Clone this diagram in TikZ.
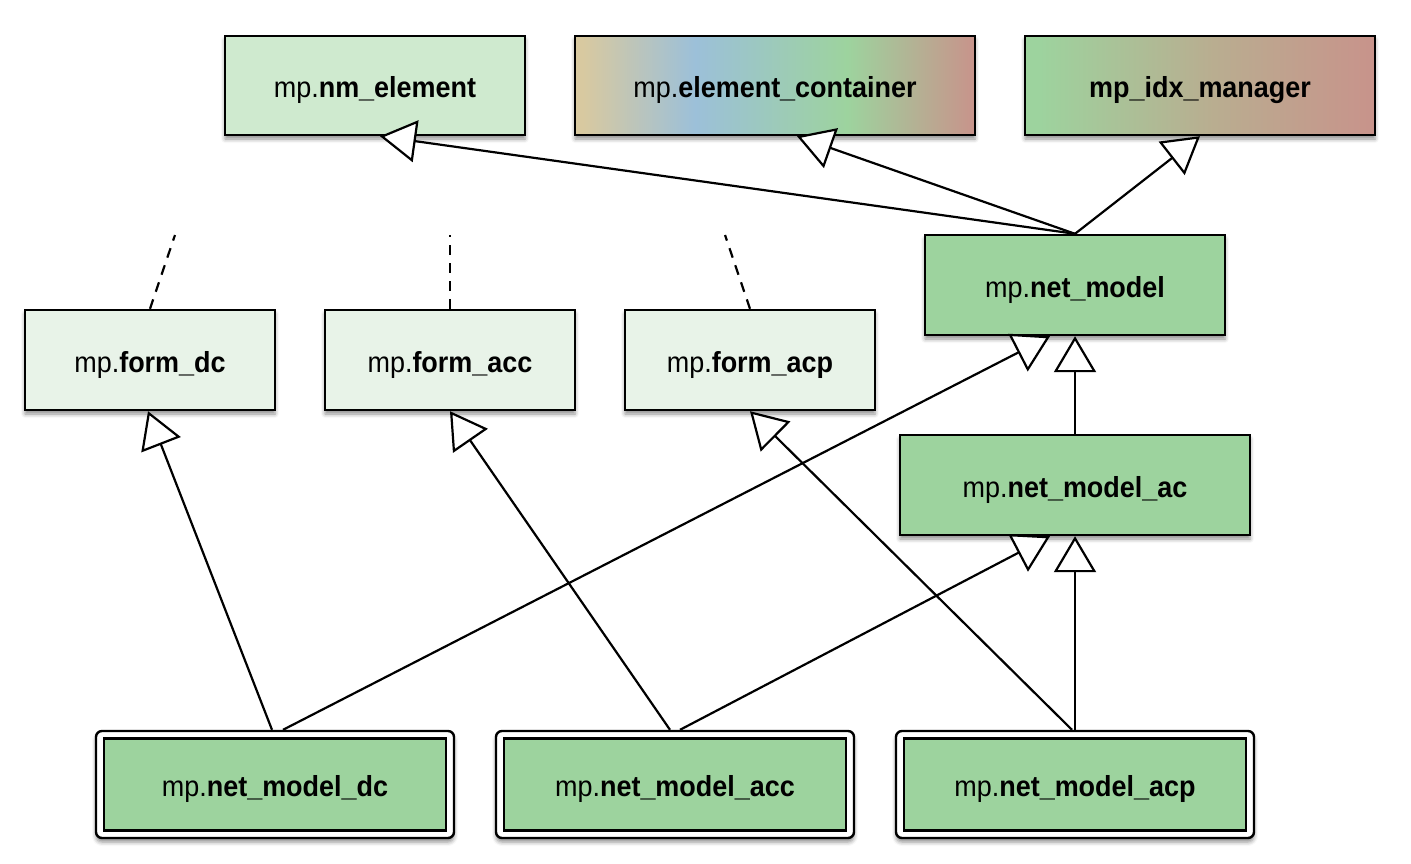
\documentclass[tikz,border=0pt]{standalone}
\usepackage{fontspec}
\setmainfont[FakeStretch=0.93]{Liberation Sans}
\usetikzlibrary{arrows.meta,shadows.blur,calc}
\definecolor{gmid}{HTML}{9DD39E}
\definecolor{glight}{HTML}{CFEACF}
\definecolor{gpale}{HTML}{E8F3E8}
\definecolor{tanc}{HTML}{D8C9A0}
\definecolor{bluec}{HTML}{9CC0D9}
\definecolor{pinkc}{HTML}{C8938B}
\definecolor{tanmid}{HTML}{B9AD90}
\pgfdeclarehorizontalshading{ecshade}{100bp}{color(0bp)=(tanc); color(26bp)=(tanc); color(40bp)=(bluec); color(59bp)=(gmid); color(75bp)=(pinkc); color(100bp)=(pinkc)}
\pgfdeclarehorizontalshading{idxshade}{100bp}{color(0bp)=(gmid); color(27bp)=(gmid); color(52bp)=(tanmid); color(75bp)=(pinkc); color(100bp)=(pinkc)}
\tikzset{
  lbl/.style={font=\fontsize{29}{32}\selectfont, text height=28pt, text depth=4pt},
  cls/.style={draw=black, line width=2.4pt, rectangle, inner sep=0pt, lbl,
    blur shadow={shadow xshift=0pt, shadow yshift=-4pt, shadow blur radius=4pt, shadow opacity=45}},
  outerbox/.style={draw=black, line width=2.4pt, rectangle, rounded corners=6pt, fill=white,
    minimum width=358pt, minimum height=107pt,
    blur shadow={shadow xshift=0pt, shadow yshift=-4pt, shadow blur radius=4pt, shadow opacity=45}},
  innerbox/.style={draw=black, line width=2.4pt, rectangle, fill=gmid, inner sep=0pt,
    minimum width=342pt, minimum height=92pt, lbl},
  inh/.style={line width=2.2pt, -{Triangle[length=36pt, width=42pt, fill=white, line width=2.2pt]}},
  dashline/.style={line width=2.2pt, dash pattern=on 10pt off 8pt}
}
\begin{document}
\begin{tikzpicture}[x=1pt, y=-1pt]
\useasboundingbox (0,0) rectangle (1411,863);
% top row
\node[cls, fill=glight, minimum width=300pt, minimum height=99pt] (nme) at (375,85.5) {mp.\textbf{nm\_element}};
\node[cls, shading=ecshade, minimum width=400pt, minimum height=99pt] (ec) at (775,85.5) {mp.\textbf{element\_container}};
\node[cls, shading=idxshade, minimum width=350pt, minimum height=99pt] (idx) at (1200,85.5) {\textbf{mp\_idx\_manager}};
% net model
\node[cls, fill=gmid, minimum width=300pt, minimum height=100pt] (nm) at (1075,285) {mp.\textbf{net\_model}};
\node[cls, fill=gmid, minimum width=350pt, minimum height=100pt] (nmac) at (1075,485) {mp.\textbf{net\_model\_ac}};
% forms
\node[cls, fill=gpale, minimum width=250pt, minimum height=100pt] (fdc) at (150,360) {mp.\textbf{form\_dc}};
\node[cls, fill=gpale, minimum width=250pt, minimum height=100pt] (facc) at (450,360) {mp.\textbf{form\_acc}};
\node[cls, fill=gpale, minimum width=250pt, minimum height=100pt] (facp) at (750,360) {mp.\textbf{form\_acp}};
% bottom
\node[outerbox] (dco) at (275,784.5) {};
\node[innerbox] (dc) at (275,784.5) {mp.\textbf{net\_model\_dc}};
\node[outerbox] (acco) at (675,784.5) {};
\node[innerbox] (acc) at (675,784.5) {mp.\textbf{net\_model\_acc}};
\node[outerbox] (acpo) at (1075,784.5) {};
\node[innerbox] (acp) at (1075,784.5) {mp.\textbf{net\_model\_acp}};
% dashed stubs
\coordinate (d1) at (175,235);
\coordinate (d2) at (450,235);
\coordinate (d3) at (725,235);
\draw[dashline] (fdc.north) -- (d1);
\draw[dashline] (facc.north) -- (d2);
\draw[dashline] (facp.north) -- (d3);
% inheritance
\draw[inh] (nm.north) -- ([xshift=5pt]nme.south);
\draw[inh] (nm.north) -- ([xshift=22pt]ec.south);
\draw[inh] (nm.north) -- (idx.south);
\draw[inh] (nmac.north) -- (nm.south);
\draw[inh] ([xshift=-3pt]dco.north) -- ([xshift=-2pt]fdc.south);
\draw[inh] ([xshift=8pt]dco.north) -- ([xshift=-25pt]nm.south);
\draw[inh] ([xshift=-5pt]acco.north) -- (facc.south);
\draw[inh] ([xshift=5pt]acco.north) -- ([xshift=-25pt]nmac.south);
\draw[inh] ([xshift=-3pt]acpo.north) -- (facp.south);
\draw[inh] (acpo.north) -- (nmac.south);
\end{tikzpicture}
\end{document}
